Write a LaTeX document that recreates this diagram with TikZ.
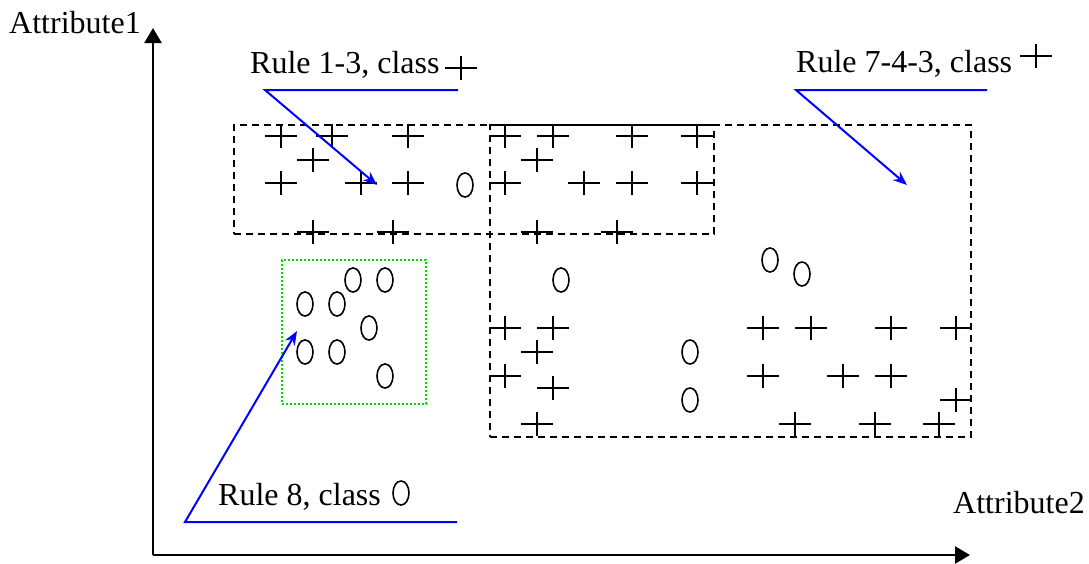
\documentclass[tikz,border=0pt]{standalone}
\usepackage{fontspec}
\setmainfont{Liberation Serif}
\usetikzlibrary{arrows.meta, shapes.geometric}
\definecolor{ruleblue}{HTML}{0000FF}
\definecolor{rulegreen}{HTML}{00E000}
\tikzset{
  axis/.style={line width=2.4pt, -{Triangle[length=15pt, width=17pt]}},
  region/.style={draw, line width=1.8pt, dash pattern=on 7pt off 5pt, inner sep=0pt, anchor=north west},
  regiongreen/.style={region, draw=rulegreen, line width=1.6pt, dash pattern=on 2pt off 2pt},
  callout/.style={line width=2pt, ruleblue, -{Stealth[length=14pt, width=11pt]}},
  oval/.style={ellipse, draw, line width=1.6pt, minimum width=16pt, minimum height=24pt, inner sep=0pt},
  plusmark/.pic={\draw[line width=1.8pt] (-16,0) -- (16,0) (0,-12) -- (0,12);},
  lbl/.style={anchor=base west, inner sep=0pt, font=\fontsize{32}{36}\selectfont},
}

\begin{document}
\begin{tikzpicture}[x=1pt, y=-1pt]
\useasboundingbox (0,0) rectangle (1089,563);

\coordinate (origin) at (153,555);
\coordinate (ytop) at (153,28);
\coordinate (xend) at (970,555);
\draw[axis] (origin) -- (ytop);
\draw[axis] (origin) -- (xend);
\node[lbl] (attr1) at (9,33) {Attribute1};
\node[lbl] (attr2) at (953,513) {Attribute2};

\node[region, minimum width=480pt, minimum height=109pt] (box13) at (233,124) {};
\node[region, minimum width=481pt, minimum height=312pt] (box743) at (489,124) {};
\node[regiongreen, minimum width=144pt, minimum height=144pt] (box8) at (281,259) {};

\foreach \x/\y in {281/136, 332/136, 408/136, 505/136, 553/136, 632/136, 697/136,
  313/160, 537/160,
  281/183, 361/183, 408/183, 505/183, 584/183, 632/183, 697/183,
  313/232, 393/232, 537/232, 617/232,
  505/328, 553/328, 763/328, 811/328, 891/328, 956/328,
  537/352,
  505/376, 763/376, 843/376, 891/376,
  553/388, 956/400,
  537/424, 795/424, 875/424, 939/424}
  \pic at (\x,\y) {plusmark};

\foreach \x/\y [count=\i] in {465/185, 305/304, 337/304, 353/280, 385/280, 369/328,
  305/352, 337/352, 385/376, 561/280, 770/260, 802/274, 690/352, 690/400}
  \node[oval] (o\i) at (\x,\y) {};

\node[lbl] (rule13) at (250,73) {Rule 1-3, class};
\pic at (461,68) {plusmark};
\coordinate (r13end) at (458,90);
\coordinate (r13start) at (265,90);
\coordinate (r13tip) at (377,185);
\draw[callout] (r13end) -- (r13start) -- (r13tip);

\node[lbl] (rule743) at (796,72) {Rule 7-4-3, class};
\pic at (1036,56) {plusmark};
\coordinate (r743end) at (987,90);
\coordinate (r743start) at (796,90);
\coordinate (r743tip) at (907,185);
\draw[callout] (r743end) -- (r743start) -- (r743tip);

\node[lbl] (rule8) at (218,505) {Rule 8, class};
\node[oval] (o8) at (401,493) {};
\coordinate (r8end) at (457,522);
\coordinate (r8start) at (185,522);
\coordinate (r8tip) at (297,331);
\draw[callout] (r8end) -- (r8start) -- (r8tip);
\end{tikzpicture}
\end{document}
